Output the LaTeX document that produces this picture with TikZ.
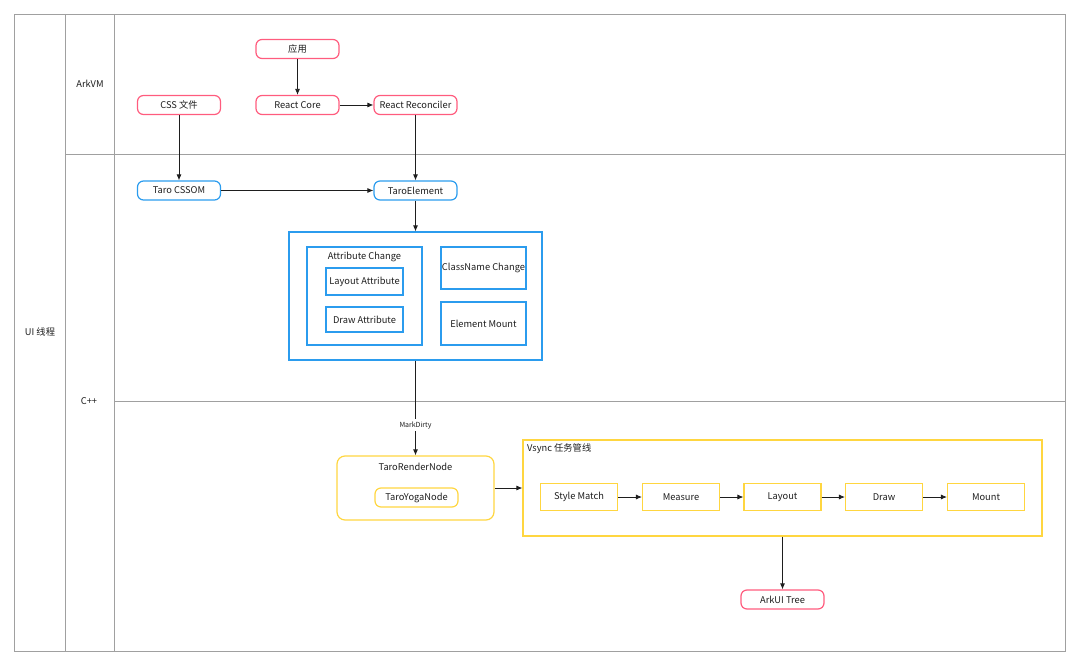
\documentclass[tikz,border=0pt]{standalone}
\usepackage{fontspec}
\setmainfont{Noto Sans CJK SC}
\usetikzlibrary{arrows.meta}
\definecolor{appred}{HTML}{FF5C7E}
\definecolor{appblue}{HTML}{2B9CEE}
\definecolor{appyellow}{HTML}{FFD640}
\definecolor{lanegray}{HTML}{A0A0A0}
\definecolor{txt}{HTML}{1E1E1E}

\begin{document}
\begin{tikzpicture}[x=1pt,y=-1pt,
  every node/.style={font=\fontsize{9.3}{11}\selectfont, text=txt, inner sep=0pt},
  lane/.style={draw=lanegray, line width=0.9pt},
  pill/.style={draw, line width=1.2pt, rounded corners=6pt, minimum width=83pt, minimum height=19pt},
  redpill/.style={pill, draw=appred},
  bluepill/.style={pill, draw=appblue},
  bluebox/.style={draw=appblue, line width=1.2pt},
  yellowbox/.style={draw=appyellow, line width=1.1pt, minimum width=77pt, minimum height=27pt},
  flow/.style={draw=txt, line width=0.8pt, -{Latex[length=6pt,width=5pt]}}]
\useasboundingbox (0,0) rectangle (1080,666);

% swimlanes
\draw[lane] (14,14) rectangle (1065,651);
\draw[lane] (65,14) -- (65,651);
\draw[lane] (114,14) -- (114,651);
\draw[lane] (65,154) -- (1065,154);
\draw[lane] (114,401) -- (1065,401);
\node (uilane) at (40,332) {UI 线程};
\node (arkvm) at (90,84) {ArkVM};
\node (cpp) at (89,401) {C++};

% ArkVM
\node[redpill] (app) at (297.5,49) {应用};
\node[redpill] (reactcore) at (297.5,105) {React Core};
\node[redpill] (cssfile) at (179,105) {CSS 文件};
\node[redpill] (reconciler) at (415.5,105) {React Reconciler};

% C++
\node[bluepill] (cssom) at (179,190.5) {Taro CSSOM};
\node[bluepill] (element) at (415.5,190.5) {TaroElement};

\node[bluebox, minimum width=253pt, minimum height=128pt] (changes) at (415.5,296) {};
\node[bluebox, minimum width=115pt, minimum height=98pt] (attrchange) at (364.5,296) {};
\node (attrlbl) at (364.5,256.5) {Attribute Change};
\node[bluebox, minimum width=77pt, minimum height=27pt] (layoutattr) at (364.5,281.5) {Layout Attribute};
\node[bluebox, minimum width=77pt, minimum height=25pt] (drawattr) at (364.5,319.5) {Draw Attribute};
\node[bluebox, minimum width=85pt, minimum height=42pt] (classchange) at (483.5,268) {ClassName Change};
\node[bluebox, minimum width=85pt, minimum height=43pt] (elemmount) at (483.5,323.5) {Element Mount};

\node[draw=appyellow, line width=1.2pt, rounded corners=8pt, minimum width=157pt, minimum height=64pt] (rendernode) at (415.5,488) {};
\node (renderlbl) at (415.5,466.5) {TaroRenderNode};
\node[draw=appyellow, line width=1.2pt, rounded corners=6pt, minimum width=83pt, minimum height=19pt] (yoganode) at (416.5,497.5) {TaroYogaNode};

\node[draw=appyellow, line width=1.2pt, minimum width=519pt, minimum height=96pt] (vsync) at (782.5,488) {};
\node[anchor=north west] (vsynclbl) at (527,443.5) {Vsync 任务管线};
\node[yellowbox] (stylematch) at (579,497) {Style Match};
\node[yellowbox] (measure) at (681,497) {Measure};
\node[yellowbox] (layout) at (782.5,497) {Layout};
\node[yellowbox] (draw) at (884,497) {Draw};
\node[yellowbox] (mount) at (986,497) {Mount};

\node[redpill] (arkui) at (782.5,599.5) {ArkUI Tree};

% connectors
\draw[flow] (app) -- (reactcore);
\draw[flow] (reactcore) -- (reconciler);
\draw[flow] (cssfile) -- (cssom);
\draw[flow] (reconciler) -- (element);
\draw[flow] (cssom) -- (element);
\draw[flow] (element) -- (changes);
\draw[flow] (changes) -- node[pos=0.68, fill=white, inner sep=2pt, font=\fontsize{7}{8}\selectfont] (markdirty) {MarkDirty} (rendernode);
\draw[flow] (rendernode) -- (vsync);
\draw[flow] (stylematch) -- (measure);
\draw[flow] (measure) -- (layout);
\draw[flow] (layout) -- (draw);
\draw[flow] (draw) -- (mount);
\draw[flow] (vsync.south) -- (arkui);
\end{tikzpicture}
\end{document}
